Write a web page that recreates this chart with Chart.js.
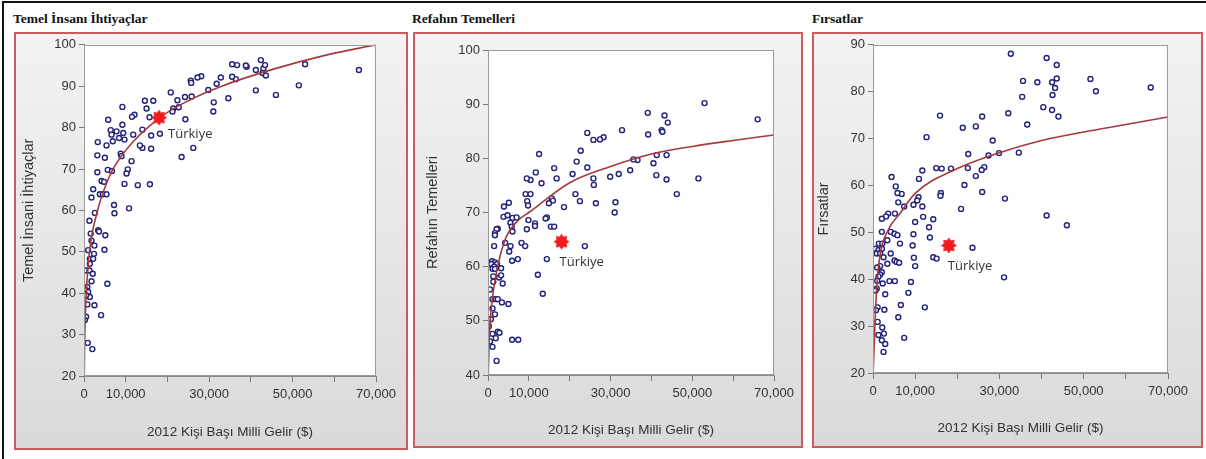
<!DOCTYPE html>
<html>
<head>
<meta charset="utf-8">
<script src="https://cdn.jsdelivr.net/npm/chart.js@4.4.1/dist/chart.umd.min.js"></script>
<style>
  body { margin: 0; width: 1206px; height: 459px; background: #fff; position: relative; overflow: hidden; }
  .frame { position: absolute; left: 2px; top: 1px; width: 1220px; height: 470px; border-top: 2px solid #111; border-left: 2px solid #111; }
  .ttl { position: absolute; top: 12px; font: bold 13.5px "Liberation Serif", serif; color: #111; line-height: 14px; white-space: nowrap; }
  .panel { position: absolute; box-sizing: border-box; border: 2px solid #cc5c5c; background: linear-gradient(#f3f3f3, #dadada); }
  .panel canvas { display: block; }
</style>
</head>
<body>
<div class="frame"></div>
<div class="ttl" style="left:13px">Temel İnsanı İhtiyaçlar</div>
<div class="ttl" style="left:412px">Refahın Temelleri</div>
<div class="ttl" style="left:812px">Fırsatlar</div>
<div class="panel" style="left:14px;top:32px;width:394px;height:418px"><canvas id="c1" width="390" height="414"></canvas></div>
<div class="panel" style="left:413px;top:32px;width:390px;height:416px"><canvas id="c2" width="386" height="412"></canvas></div>
<div class="panel" style="left:812px;top:32px;width:391px;height:416px"><canvas id="c3" width="387" height="412"></canvas></div>
<script>
// x axis (shared)
const xTicks = [0, 10000, 20000, 30000, 40000, 50000, 60000, 70000];
const xTickLabels = ['0', '10,000', '', '30,000', '', '50,000', '', '70,000'];
const xTitle = '2012 Kişi Başı Milli Gelir ($)';
const trName = 'Türkiye';
const trIncome = 18000;

// Temel İnsani İhtiyaçlar
const tiiYTicks = [20, 30, 40, 50, 60, 70, 80, 90, 100];
const tiiIncome = [65900, 53000, 51500, 46000, 41200, 42400, 43000, 42800, 43400, 43600, 41200, 39000, 38800, 36700, 35500, 36400, 35500, 34600, 32800, 31800, 31100, 31000, 29800, 28100, 27200, 25600, 25700, 25800, 24200, 24300, 22400, 21400, 21200, 20800, 22700, 26200, 23400, 18200, 16100, 16100, 15000, 14600, 16600, 15700, 14000, 14000, 13400, 12100, 11500, 11800, 11400, 10500, 10200, 9200, 9200, 9400, 9700, 8400, 7800, 6400, 6600, 5800, 6900, 5400, 3300, 3200, 5000, 8800, 9000, 9700, 12900, 15800, 5700, 6700, 3200, 4200, 4800, 2200, 1800, 3800, 4500, 5400, 7200, 7300, 10800, 2600, 1300, 3400, 1600, 3600, 5100, 1800, 2500, 1000, 4900, 2400, 1400, 2200, 500, 1300, 2100, 1800, 5600, 800, 500, 1000, 1400, 800, 2500, 500, 4100, 200, 900, 2000, 1400, 500];
const tiiScore = [93.9, 95.3, 90.2, 87.9, 89, 96.3, 94.3, 93.2, 95.1, 92.6, 93.9, 94.7, 95, 95.1, 95.3, 91.7, 92.3, 87.1, 92.1, 90.6, 86.1, 83.9, 89.1, 92.4, 92.1, 91.3, 90.8, 87.5, 87.4, 82, 86.6, 84.6, 83.9, 88.5, 84.9, 75.1, 72.9, 78.5, 78.1, 74.9, 84.6, 86.5, 86.5, 82.5, 79.5, 75.1, 75.7, 83.1, 82.6, 78.3, 71.9, 69.9, 68.9, 85, 80.7, 78.7, 77.1, 77.5, 79.1, 79.4, 78.3, 81.9, 76.7, 75.7, 76.5, 73.3, 72.7, 73.7, 73.1, 66.4, 66.1, 66.3, 69.8, 69.5, 69.2, 67.1, 66.9, 65.1, 63.1, 63.9, 63.9, 63.9, 61.3, 59.3, 60.5, 59.4, 57.5, 55.2, 54.4, 54.9, 54, 52.7, 51.5, 50.4, 50.5, 49.5, 48.3, 48.3, 45.5, 45.5, 44.7, 42.9, 42.3, 41.5, 40.7, 40.3, 39.1, 37.3, 37.1, 34.3, 34.7, 33.5, 28, 26.5, 47.1, 39.5];
const tiiFitIncome = [60, 200, 550, 1300, 3000, 6000, 10000, 18000, 25000, 33000, 45000, 58000, 70000];
const tiiFitScore = [20, 30, 40, 50, 59, 68, 74.5, 82.3, 86.5, 90, 94, 97.5, 100];
const tiiTr = 82.4;

// Refahın Temelleri
const rtYTicks = [40, 50, 60, 70, 80, 90, 100];
const rtIncome = [66000, 53000, 51500, 46200, 43700, 43700, 44000, 43200, 42500, 42700, 41300, 41200, 40500, 39100, 39200, 36600, 35600, 34800, 32800, 32000, 31200, 31000, 29900, 28300, 27400, 25800, 24300, 25800, 25900, 26400, 24300, 22700, 21700, 20700, 21400, 22500, 18600, 16800, 16200, 15600, 15900, 14900, 14400, 12500, 13100, 11700, 10400, 9500, 9200, 10400, 9600, 9800, 5100, 3900, 3800, 4800, 6000, 7000, 5500, 2400, 9900, 11500, 14100, 15400, 16200, 11500, 9500, 5800, 6000, 2100, 1700, 1700, 4200, 1500, 5500, 5200, 8200, 9100, 23700, 14400, 7300, 5900, 1000, 1700, 800, 2200, 1500, 3200, 1100, 1700, 12200, 1300, 2700, 3200, 1300, 3600, 500, 13400, 1100, 1900, 2400, 3400, 5000, 1100, 1700, 700, 200, 2400, 2800, 1100, 1900, 500, 5900, 7400, 1100, 2100];
const rtScore = [87.2, 90.2, 76.3, 73.4, 76.1, 80.6, 86.6, 87.9, 85.2, 84.9, 80.6, 76.9, 79.1, 88.4, 84.4, 79.7, 79.8, 77.8, 85.2, 77.1, 71.9, 70, 76.6, 83.9, 83.5, 83.4, 84.7, 76.3, 75.1, 71.7, 78.3, 81.4, 79.4, 77.1, 73.4, 72.1, 71, 76.3, 78.2, 72.6, 72.2, 71.7, 69.1, 80.8, 75.4, 77.4, 76, 76.3, 73.4, 73.4, 72.1, 71.3, 71.8, 71.1, 69.2, 69.5, 69, 69.1, 68.1, 67, 68.6, 68, 68.9, 67.4, 67.4, 67.5, 66.9, 67.4, 66.5, 66.9, 66.2, 65.8, 64.4, 63.8, 63.8, 62.8, 64.4, 63.8, 63.8, 61.4, 61.4, 61.1, 61, 60.8, 60.5, 60.5, 60, 59.7, 59.6, 59.6, 58.5, 58.2, 58, 58.4, 57.2, 56.9, 55.8, 55, 54, 54, 54, 53.4, 53.1, 52.3, 51.2, 50.3, 49, 48, 47.8, 47.6, 46.8, 46.2, 46.5, 46.5, 45.2, 42.6];
const rtFitIncome = [60, 320, 900, 2100, 4200, 7300, 10000, 20000, 30000, 40000, 50000, 60000, 70000];
const rtFitScore = [40, 47, 53, 59, 65, 68.5, 70, 75.5, 78.5, 80.8, 82.2, 83.3, 84.3];
const rtTr = 64.6;

// Fırsatlar
const fYTicks = [20, 30, 40, 50, 60, 70, 80, 90];
const fIncome = [65900, 52900, 51600, 46000, 41200, 41200, 43600, 43600, 42500, 43200, 42600, 44000, 42500, 40400, 39000, 35600, 35400, 36600, 32700, 32100, 34600, 29900, 28400, 27400, 26400, 25800, 25900, 25900, 24400, 24400, 21300, 22600, 22500, 21700, 20900, 31300, 18500, 16300, 15000, 15900, 16100, 16000, 12700, 11700, 10900, 10800, 10500, 9600, 11700, 11900, 10000, 14300, 13300, 7400, 6000, 6800, 5800, 5400, 4400, 5200, 3600, 3100, 2100, 2100, 4200, 5100, 5800, 9600, 13500, 3400, 1400, 2200, 6400, 9400, 600, 1300, 2100, 900, 1700, 4200, 9700, 14300, 15100, 2500, 5100, 5600, 6200, 3400, 10000, 1700, 1000, 2100, 1700, 1300, 1000, 2300, 3900, 5200, 9000, 31100, 900, 600, 2900, 8400, 6600, 12300, 1100, 700, 2700, 6000, 1100, 2200, 2600, 1300, 7400, 2100, 2900, 2500, 23600];
const fScore = [80.9, 80.1, 82.7, 51.5, 53.6, 87.2, 85.7, 82.8, 82, 80.8, 79.3, 74.7, 76.1, 76.7, 82, 82.3, 78.9, 73, 88.1, 75.4, 67, 66.9, 69.6, 66.4, 63.9, 63.3, 58.6, 74.7, 72.6, 62, 72.3, 66.7, 63.7, 60.1, 55, 57.2, 63.6, 63.6, 63.7, 74.9, 58.4, 57.8, 70.3, 63.2, 61.4, 57.5, 56.8, 55.9, 55.5, 53.3, 52.2, 52.8, 51.1, 55.5, 56.4, 58.2, 58.4, 59.8, 61.8, 54, 54, 53.4, 52.9, 50.1, 50.1, 49.7, 49.4, 49.6, 48.9, 48.3, 47.6, 47.6, 47.6, 47.2, 46.5, 46.2, 46.5, 45.5, 45.5, 45.5, 44.6, 44.7, 44.4, 44.7, 44, 43.7, 43.5, 43.3, 42.8, 42.8, 42.5, 41.5, 41, 40.6, 39.7, 39.1, 39.6, 39.6, 39.4, 40.4, 38, 37.6, 36.8, 37.1, 34.5, 34, 34, 33.4, 33.5, 31.9, 30.9, 29.7, 28.4, 28.1, 27.5, 27, 26.2, 24.5, 46.7];
const fFitIncome = [40, 450, 870, 1650, 3600, 6400, 10000, 20000, 30000, 40000, 50000, 60000, 70000];
const fFitScore = [20, 30, 38, 45, 50.5, 54, 58.3, 63.6, 67, 69.6, 71.4, 73, 74.6];
const fTr = 47.2;

const toPoints = (xs, ys) => xs.map((x, i) => ({ x: x, y: ys[i] }));

// red star marker for Türkiye
const starImg = document.createElement('canvas');
starImg.width = 17; starImg.height = 17;
(() => {
  const c = starImg.getContext('2d');
  c.fillStyle = '#ee1c1c';
  c.beginPath();
  for (let i = 0; i < 16; i++) {
    const r = i % 2 === 0 ? 8 : 5.4;
    const a = -Math.PI / 2 + i * Math.PI / 8;
    const px = 8.5 + r * Math.cos(a), py = 8.5 + r * Math.sin(a);
    if (i === 0) c.moveTo(px, py); else c.lineTo(px, py);
  }
  c.closePath();
  c.fill();
})();

const plotFrame = {
  id: 'plotFrame',
  beforeDraw(chart) {
    const { ctx, chartArea: a } = chart;
    ctx.save();
    ctx.fillStyle = '#fff';
    ctx.fillRect(a.left, a.top, a.width, a.height);
    ctx.restore();
  },
  afterDraw(chart) {
    const { ctx, chartArea: a } = chart;
    ctx.save();
    ctx.strokeStyle = '#9a9a9a';
    ctx.lineWidth = 1;
    ctx.strokeRect(Math.round(a.left) + 0.5, Math.round(a.top) + 0.5, Math.round(a.width) - 1, Math.round(a.height) - 1);
    ctx.restore();
  }
};

const trLabel = {
  id: 'trLabel',
  afterDatasetsDraw(chart, args, opts) {
    const pt = chart.getDatasetMeta(0).data[0];
    if (!pt) return;
    const ctx = chart.ctx;
    ctx.save();
    ctx.font = '13px "Open Sans", sans-serif';
    ctx.fillStyle = '#333';
    ctx.textAlign = 'left';
    ctx.textBaseline = 'middle';
    ctx.fillText(trName, pt.x + opts.dx, pt.y + opts.dy);
    ctx.restore();
  }
};

const makePanel = (id, p) => {
  return new Chart(document.getElementById(id), {
    type: 'scatter',
    data: {
      datasets: [
        { label: trName, data: [{ x: trIncome, y: p.tr }], pointStyle: starImg, order: 0 },
        {
          label: 'fit', data: toPoints(p.fitX, p.fitY), showLine: true, pointRadius: 0,
          borderColor: '#a53a3c', borderWidth: 1.6, cubicInterpolationMode: 'monotone', order: 1
        },
        {
          label: 'countries', data: toPoints(p.xs, p.ys), pointStyle: 'circle', pointRadius: 2.5,
          borderColor: '#23237c', backgroundColor: 'rgba(255,255,255,0.9)', borderWidth: 1.4, order: 2
        }
      ]
    },
    options: {
      responsive: false,
      animation: false,
      layout: { autoPadding: false, padding: { top: p.top, right: p.right, left: 0, bottom: 0 } },
      plugins: { legend: { display: false }, tooltip: { enabled: false }, trLabel: { dx: p.dx, dy: p.dy } },
      scales: {
        x: {
          type: 'linear', min: xTicks[0], max: xTicks[xTicks.length - 1],
          afterBuildTicks: s => { s.ticks = xTicks.map(v => ({ value: v })); },
          ticks: {
            callback: (v, i) => xTickLabels[i], color: '#333', padding: 5, maxRotation: 0, autoSkip: false,
            font: { family: '"Liberation Sans", Arial, sans-serif', size: 13 }
          },
          grid: { drawOnChartArea: false, tickLength: 6, color: '#777' },
          border: { color: '#8a8a8a' },
          title: {
            display: true, text: xTitle, color: '#333', padding: { top: 0, bottom: p.xtPad },
            font: { family: '"Liberation Sans", Arial, sans-serif', size: 13.5 }
          },
          afterFit: s => { s.height = p.bottomH; }
        },
        y: {
          min: p.yTicks[0], max: p.yTicks[p.yTicks.length - 1],
          afterBuildTicks: s => { s.ticks = p.yTicks.map(v => ({ value: v })); },
          ticks: {
            color: '#333', padding: 3,
            font: { family: '"Liberation Sans", Arial, sans-serif', size: 13 }
          },
          grid: { drawOnChartArea: false, tickLength: 5, color: '#777' },
          border: { color: '#8a8a8a' },
          title: {
            display: true, text: p.yTitle, color: '#333', padding: { top: p.ytPad, bottom: 0 },
            font: { family: '"Liberation Sans", Arial, sans-serif', size: 14.5 }
          },
          afterFit: s => { s.width = p.leftW; }
        }
      }
    },
    plugins: [plotFrame, trLabel]
  });
};

makePanel('c1', {
  xs: tiiIncome, ys: tiiScore, fitX: tiiFitIncome, fitY: tiiFitScore, tr: tiiTr, yTicks: tiiYTicks,
  yTitle: 'Temel İnsani İhtiyaçlar', top: 9, right: 30, leftW: 68, bottomH: 72, ytPad: 4, xtPad: 8, dx: 9, dy: 17
});
makePanel('c2', {
  xs: rtIncome, ys: rtScore, fitX: rtFitIncome, fitY: rtFitScore, tr: rtTr, yTicks: rtYTicks,
  yTitle: 'Refahın Temelleri', top: 16, right: 27, leftW: 73, bottomH: 71, ytPad: 9, xtPad: 8, dx: -2, dy: 21
});
makePanel('c3', {
  xs: fIncome, ys: fScore, fitX: fFitIncome, fitY: fFitScore, tr: fTr, yTicks: fYTicks,
  yTitle: 'Fırsatlar', top: 10, right: 33, leftW: 59, bottomH: 73, ytPad: 1, xtPad: 10, dx: -1, dy: 21
});
</script>
</body>
</html>
